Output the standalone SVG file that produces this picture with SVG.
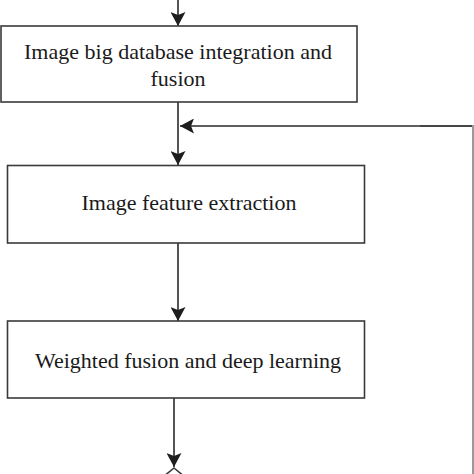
<svg xmlns="http://www.w3.org/2000/svg" width="474" height="474" viewBox="0 0 474 474">
<style>
.box{fill:#fff;stroke:#3a3a3a;stroke-width:1.6}
.lbl{font-family:"Liberation Serif","Times New Roman",serif;font-size:22px;fill:#1a1a1a;text-anchor:middle}
.con{fill:none;stroke:#2a2a2a;stroke-width:1.6}
.grey{fill:none;stroke:#9a9a9a;stroke-width:2}
</style>
<defs>
<marker id="ah" markerUnits="userSpaceOnUse" viewBox="0 0 14 15" refX="14" refY="7.5" markerWidth="14" markerHeight="15" orient="auto">
<path d="M0,0 L14,7.5 L0,15 L3,7.5 z" fill="#1e1e1e"/>
</marker>
</defs>
<rect width="474" height="474" fill="#fff"/>
<g id="connectors">
<line class="con" x1="178" y1="0" x2="178" y2="26" marker-end="url(#ah)"/>
<line class="con" x1="178" y1="102" x2="178" y2="165" marker-end="url(#ah)"/>
<polyline class="grey" points="473,474 473,126 420,126"/>
<line class="con" x1="472" y1="126" x2="180" y2="126" marker-end="url(#ah)"/>
<line class="con" x1="178" y1="243" x2="178" y2="321" marker-end="url(#ah)"/>
<line class="con" x1="174" y1="398" x2="174" y2="467" marker-end="url(#ah)"/>
</g>
<g id="node-integration">
<rect class="box" x="1" y="26" width="356" height="76"/>
<text class="lbl" x="178" y="59">Image big database integration and</text>
<text class="lbl" x="178" y="86">fusion</text>
</g>
<g id="node-extraction">
<rect class="box" x="7.5" y="165.5" width="357" height="77.5"/>
<text class="lbl" x="189" y="209.5">Image feature extraction</text>
</g>
<g id="node-weighted">
<rect class="box" x="7.5" y="321" width="357" height="77"/>
<text class="lbl" x="188" y="368">Weighted fusion and deep learning</text>
</g>
<g id="node-decision">
<polygon class="box" points="174,468 196,486 174,504 152,486"/>
</g>
</svg>
